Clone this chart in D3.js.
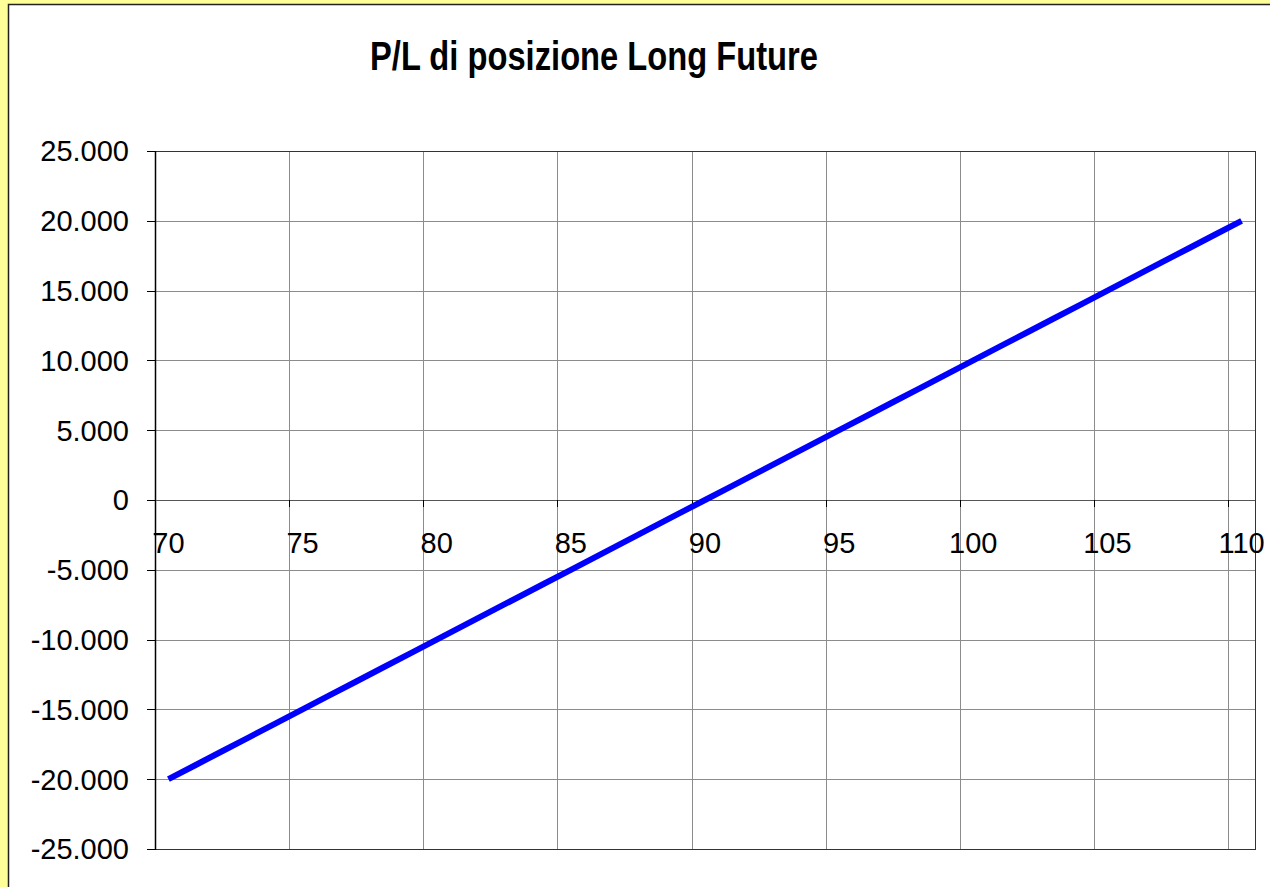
<!DOCTYPE html>
<html>
<head>
<meta charset="utf-8">
<script src="https://cdn.jsdelivr.net/npm/d3@7"></script>
<style>
  html, body { margin: 0; padding: 0; background: #FFFF99; overflow: hidden; }
  svg { display: block; font-family: "Liberation Sans", Arial, sans-serif; }
</style>
</head>
<body>
<svg width="1270" height="887"></svg>
<script>
// underlying price (categories) and P/L of the long future
var prices = [70, 71, 72, 73, 74, 75, 76, 77, 78, 79, 80, 81, 82, 83, 84, 85, 86, 87, 88, 89, 90,
              91, 92, 93, 94, 95, 96, 97, 98, 99, 100, 101, 102, 103, 104, 105, 106, 107, 108, 109, 110];
var pl = [-20000, -19000, -18000, -17000, -16000, -15000, -14000, -13000, -12000, -11000, -10000,
          -9000, -8000, -7000, -6000, -5000, -4000, -3000, -2000, -1000, 0,
          1000, 2000, 3000, 4000, 5000, 6000, 7000, 8000, 9000, 10000,
          11000, 12000, 13000, 14000, 15000, 16000, 17000, 18000, 19000, 20000];
var xTickLabels = [70, 75, 80, 85, 90, 95, 100, 105, 110];
var yTicks = [-25000, -20000, -15000, -10000, -5000, 0, 5000, 10000, 15000, 20000, 25000];
var title = "P/L di posizione Long Future";

var svg = d3.select("svg");

var plot = { left: 155, top: 151, right: 1255, bottom: 849 };

// chart area
svg.append("rect")
    .attr("x", 8.5).attr("y", 4.5)
    .attr("width", 1300).attr("height", 1000)
    .attr("fill", "#fff")
    .attr("stroke", "#222")
    .attr("stroke-width", 1.5);

var x = d3.scaleBand()
    .domain(prices)
    .range([plot.left, plot.right])
    .paddingInner(0).paddingOuter(0);

var y = d3.scaleLinear()
    .domain([-25000, 25000])
    .range([plot.bottom, plot.top]);

var it = d3.formatLocale({ decimal: ",", thousands: ".", grouping: [3], currency: ["", "€"], minus: "-" });
var fmt = it.format(",d");

// horizontal gridlines
svg.append("g")
    .selectAll("line")
    .data(yTicks)
    .enter().append("line")
    .attr("x1", plot.left).attr("x2", plot.right)
    .attr("y1", function(d) { return Math.round(y(d)) + 0.5; })
    .attr("y2", function(d) { return Math.round(y(d)) + 0.5; })
    .attr("stroke", "#8c8c8c")
    .attr("stroke-width", 1);

// vertical gridlines at category boundaries
svg.append("g")
    .selectAll("line")
    .data(xTickLabels)
    .enter().append("line")
    .attr("x1", function(d) { return Math.round(x(d)) + 0.5; })
    .attr("x2", function(d) { return Math.round(x(d)) + 0.5; })
    .attr("y1", plot.top).attr("y2", plot.bottom)
    .attr("stroke", "#8c8c8c")
    .attr("stroke-width", 1);

// plot area border
svg.append("rect")
    .attr("x", plot.left + 0.5).attr("y", plot.top + 0.5)
    .attr("width", plot.right - plot.left).attr("height", plot.bottom - plot.top)
    .attr("fill", "none")
    .attr("stroke", "#333")
    .attr("stroke-width", 1);

// value axis
var yAxis = svg.append("g");
yAxis.append("line")
    .attr("x1", plot.left + 0.5).attr("x2", plot.left + 0.5)
    .attr("y1", plot.top).attr("y2", plot.bottom + 1)
    .attr("stroke", "#000").attr("stroke-width", 1.5);
yAxis.selectAll("line.tick")
    .data(yTicks)
    .enter().append("line")
    .attr("class", "tick")
    .attr("x1", plot.left - 8).attr("x2", plot.left)
    .attr("y1", function(d) { return Math.round(y(d)) + 0.5; })
    .attr("y2", function(d) { return Math.round(y(d)) + 0.5; })
    .attr("stroke", "#000");
yAxis.selectAll("text")
    .data(yTicks)
    .enter().append("text")
    .attr("x", 129)
    .attr("y", function(d) { return y(d); })
    .attr("dy", "0.36em")
    .attr("text-anchor", "end")
    .attr("font-size", 29)
    .attr("fill", "#000")
    .text(function(d) { return fmt(d); });

// category axis crossing at 0
var xAxis = svg.append("g");
xAxis.append("line")
    .attr("x1", plot.left).attr("x2", plot.right)
    .attr("y1", Math.round(y(0)) + 0.5).attr("y2", Math.round(y(0)) + 0.5)
    .attr("stroke", "#555").attr("stroke-width", 1.2);
xAxis.selectAll("line.tick")
    .data(xTickLabels)
    .enter().append("line")
    .attr("class", "tick")
    .attr("x1", function(d) { return Math.round(x(d)) + 0.5; })
    .attr("x2", function(d) { return Math.round(x(d)) + 0.5; })
    .attr("y1", y(0)).attr("y2", y(0) + 7)
    .attr("stroke", "#000");
xAxis.selectAll("text")
    .data(xTickLabels)
    .enter().append("text")
    .attr("x", function(d) { return x(d) + x.bandwidth() / 2; })
    .attr("y", 553)
    .attr("text-anchor", "middle")
    .attr("font-size", 29)
    .attr("fill", "#000")
    .text(function(d) { return d; });

// P/L line
var line = d3.line()
    .x(function(d, i) { return x(prices[i]) + x.bandwidth() / 2; })
    .y(function(d) { return y(d); });

svg.append("path")
    .datum(pl)
    .attr("d", line)
    .attr("fill", "none")
    .attr("stroke", "#0000ff")
    .attr("stroke-width", 6)
    .attr("stroke-linejoin", "round");

// title
svg.append("text")
    .attr("x", 594)
    .attr("y", 70)
    .attr("text-anchor", "middle")
    .attr("font-size", 40)
    .attr("font-weight", "bold")
    .attr("textLength", 448)
    .attr("lengthAdjust", "spacingAndGlyphs")
    .text(title);
</script>
</body>
</html>
